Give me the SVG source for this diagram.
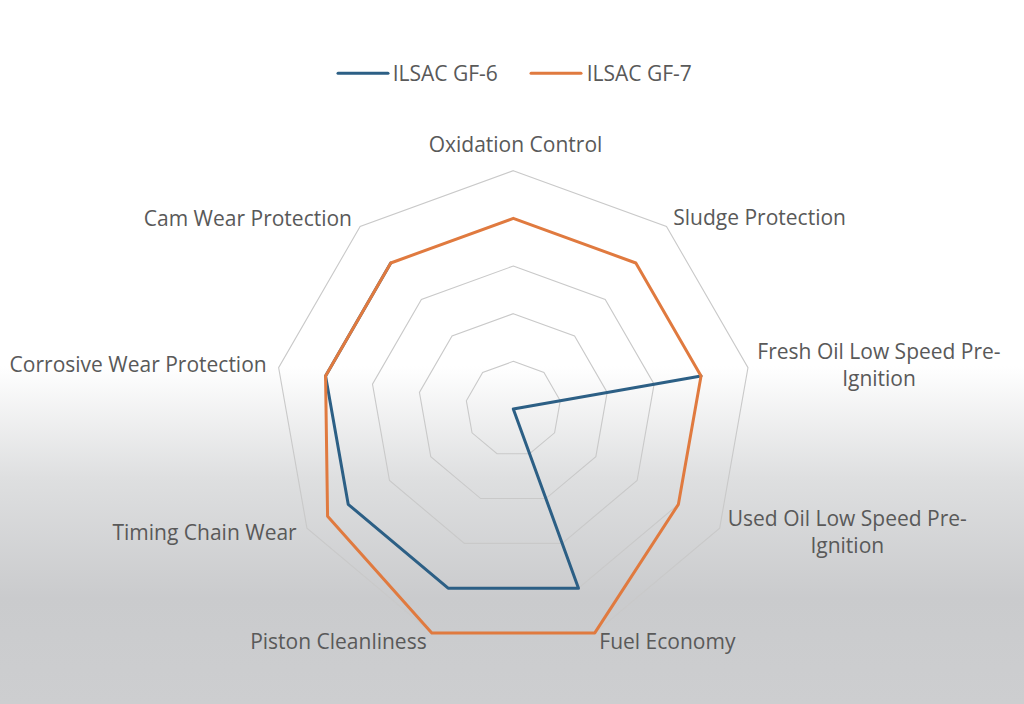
<svg xmlns="http://www.w3.org/2000/svg" width="1024" height="704" viewBox="0 0 1024 704">
<defs>
<linearGradient id="bg" gradientUnits="userSpaceOnUse" x1="0" y1="0" x2="0" y2="704">
<stop offset="0" stop-color="#ffffff"/>
<stop offset="0.52" stop-color="#ffffff"/>
<stop offset="0.68" stop-color="#dedfe0"/>
<stop offset="0.85" stop-color="#cacbcd"/>
<stop offset="1" stop-color="#cdced0"/>
</linearGradient>
<style>
.lbl{font-family:"Open Sans","Liberation Sans",sans-serif;font-size:21px;fill:#595959}
.ring{fill:none;stroke:#c9c9c9;stroke-width:1.1}
.s1{fill:none;stroke:#2c5f85;stroke-width:3;stroke-linejoin:round;stroke-linecap:round}
.s2{fill:none;stroke:#e07a3f;stroke-width:3;stroke-linejoin:round;stroke-linecap:round}
</style>
</defs>
<rect x="0" y="0" width="1024" height="704" fill="url(#bg)"/>

<g id="legend">
<line x1="338" y1="73.3" x2="388" y2="73.3" class="s1"/>
<text x="392.7" y="80.7" class="lbl">ILSAC GF-6</text>
<line x1="531" y1="73.3" x2="581" y2="73.3" class="s2"/>
<text x="586.7" y="80.7" class="lbl">ILSAC GF-7</text>
</g>

<g id="grid" transform="translate(513.3,409)">
<polygon class="ring" points="0,-47.66 30.64,-36.51 46.94,-8.27 41.27,23.83 16.30,44.79 -16.30,44.79 -41.27,23.83 -46.94,-8.27 -30.64,-36.51"/>
<polygon class="ring" points="0,-95.32 61.27,-73.02 93.87,-16.55 82.55,47.66 32.60,89.57 -32.60,89.57 -82.55,47.66 -93.87,-16.55 -61.27,-73.02"/>
<polygon class="ring" points="0,-142.98 91.91,-109.53 140.81,-24.82 123.82,71.49 48.90,134.36 -48.90,134.36 -123.82,71.49 -140.81,-24.82 -91.91,-109.53"/>
<polygon class="ring" points="0,-190.64 122.54,-146.03 187.74,-33.10 165.10,95.32 65.20,179.14 -65.20,179.14 -165.10,95.32 -187.74,-33.10 -122.54,-146.03"/>
<polygon class="ring" points="0,-238.3 153.18,-182.54 234.68,-41.37 206.37,119.15 81.50,223.93 -81.50,223.93 -206.37,119.15 -234.68,-41.37 -153.18,-182.54"/>
</g>

<g id="series" transform="translate(513.3,409)">
<polyline id="gf6" class="s1" points="-122.54,-146.03 -187.74,-33.10 -165.10,95.32 -65.20,179.14 65.20,179.14 0,0 187.74,-33.10 0,0"/>
<polygon id="gf7" class="s2" points="0,-190.64 122.54,-146.03 187.74,-33.10 165.10,95.32 81.50,223.93 -81.50,223.93 -185.73,107.24 -187.74,-33.10 -122.54,-146.03"/>
</g>

<g id="axis-labels">
<text x="515.5" y="151.7" class="lbl" text-anchor="middle">Oxidation Control</text>
<text x="673.3" y="225" class="lbl">Sludge Protection</text>
<text x="879" y="359.3" class="lbl" text-anchor="middle">Fresh Oil Low Speed Pre-</text>
<text x="879" y="386" class="lbl" text-anchor="middle">Ignition</text>
<text x="847.3" y="526" class="lbl" text-anchor="middle">Used Oil Low Speed Pre-</text>
<text x="847.3" y="553.3" class="lbl" text-anchor="middle">Ignition</text>
<text x="599.3" y="649.3" class="lbl">Fuel Economy</text>
<text x="426.7" y="649" class="lbl" text-anchor="end">Piston Cleanliness</text>
<text x="296.7" y="540" class="lbl" text-anchor="end">Timing Chain Wear</text>
<text x="266.7" y="372.3" class="lbl" text-anchor="end">Corrosive Wear Protection</text>
<text x="352" y="226" class="lbl" text-anchor="end">Cam Wear Protection</text>
</g>
</svg>
